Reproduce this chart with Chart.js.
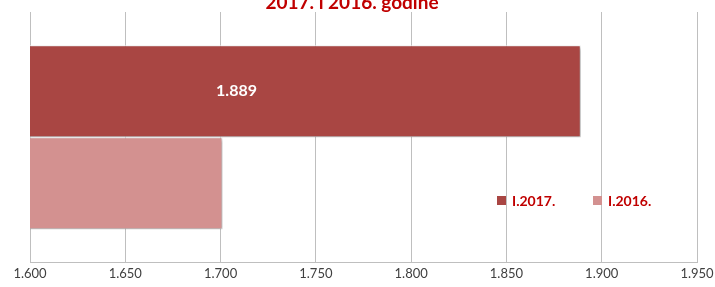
<!DOCTYPE html>
<html>
<head>
<meta charset="utf-8">
<script src="https://cdn.jsdelivr.net/npm/chart.js@4.4.0/dist/chart.umd.min.js"></script>
<style>
    html, body { margin: 0; padding: 0; background: #fff; }
    #wrap { position: relative; width: 715px; height: 287px; }
</style>
</head>
<body>
<div id="wrap"><canvas id="chart" width="715" height="287"></canvas></div>
<script>
// ===== chart data =====
const categories = [''];
const seriesNames = ['I.2017.', 'I.2016.'];
const values2017 = [1.889];
const values2016 = [1.701];
const seriesColors = ['#A94643', '#D39190'];
const titleText = '2017. i 2016. godine';
const axisMin = 1.6;
const axisMax = 1.95;
const axisStep = 0.05;

const fontFamily = 'Lato, "Open Sans", sans-serif';

// Title, partly cut off at the top edge like the original
const titlePlugin = {
    id: 'cutTitle',
    afterDraw(chart) {
        const ctx = chart.ctx;
        ctx.save();
        ctx.fillStyle = '#C00000';
        ctx.font = 'bold 19px ' + fontFamily;
        ctx.textAlign = 'center';
        ctx.textBaseline = 'alphabetic';
        ctx.fillText(titleText, 352, 9);
        ctx.restore();
    }
};

// Soft drop shadow on bars
const shadowPlugin = {
    id: 'barShadow',
    beforeDatasetsDraw(chart) {
        const ctx = chart.ctx;
        ctx.save();
        ctx.shadowColor = 'rgba(0,0,0,0.35)';
        ctx.shadowBlur = 4;
        ctx.shadowOffsetX = 2;
        ctx.shadowOffsetY = 2;
    },
    afterDatasetsDraw(chart) {
        chart.ctx.restore();
    }
};

// Value label only on the 2017 bar
const labelPlugin = {
    id: 'valueLabel',
    afterDraw(chart) {
        const ctx = chart.ctx;
        const bar = chart.getDatasetMeta(0).data[0];
        if (!bar) return;
        const value = chart.data.datasets[0].data[0];
        const left = chart.scales.x.left;
        ctx.save();
        ctx.fillStyle = '#FFFFFF';
        ctx.font = 'bold 16px ' + fontFamily;
        ctx.textAlign = 'center';
        ctx.textBaseline = 'middle';
        ctx.fillText(value.toFixed(3), left + (bar.x - left) * 0.375, bar.y);
        ctx.restore();
    }
};

// Legend floating inside the plot area
const legendPlugin = {
    id: 'innerLegend',
    afterDraw(chart) {
        const ctx = chart.ctx;
        const positions = [497, 593];
        ctx.save();
        ctx.font = 'bold 14px ' + fontFamily;
        ctx.textBaseline = 'middle';
        seriesNames.forEach((name, i) => {
            const x = positions[i];
            ctx.fillStyle = seriesColors[i];
            ctx.fillRect(x, 196, 9, 9);
            ctx.fillStyle = '#C00000';
            ctx.fillText(name, x + 15, 201);
        });
        ctx.restore();
    }
};

new Chart(document.getElementById('chart'), {
    type: 'bar',
    data: {
        labels: categories,
        datasets: [
            {
                label: seriesNames[0],
                data: values2017,
                backgroundColor: seriesColors[0],
                borderColor: '#FFFFFF',
                borderWidth: 1,
                categoryPercentage: 0.735,
                barPercentage: 1.0
            },
            {
                label: seriesNames[1],
                data: values2016,
                backgroundColor: seriesColors[1],
                borderColor: '#FFFFFF',
                borderWidth: 1,
                categoryPercentage: 0.735,
                barPercentage: 1.0
            }
        ]
    },
    options: {
        indexAxis: 'y',
        responsive: false,
        animation: false,
        layout: { padding: { left: 30, right: 18, top: 12, bottom: 1 } },
        plugins: {
            legend: { display: false },
            title: { display: false },
            tooltip: { enabled: false }
        },
        scales: {
            x: {
                min: axisMin,
                max: axisMax,
                border: { display: true, color: '#BFBFBF' },
                grid: { color: '#BFBFBF', drawTicks: false, lineWidth: 1 },
                ticks: {
                    stepSize: axisStep,
                    padding: 4,
                    color: '#404040',
                    font: { family: fontFamily, size: 13 },
                    callback: v => Number(v).toFixed(3)
                },
                afterFit(scale) {
                    scale.paddingLeft = 0;
                    scale.paddingRight = 0;
                }
            },
            y: {
                display: false
            }
        }
    },
    plugins: [shadowPlugin, labelPlugin, legendPlugin, titlePlugin]
});
</script>
</body>
</html>
